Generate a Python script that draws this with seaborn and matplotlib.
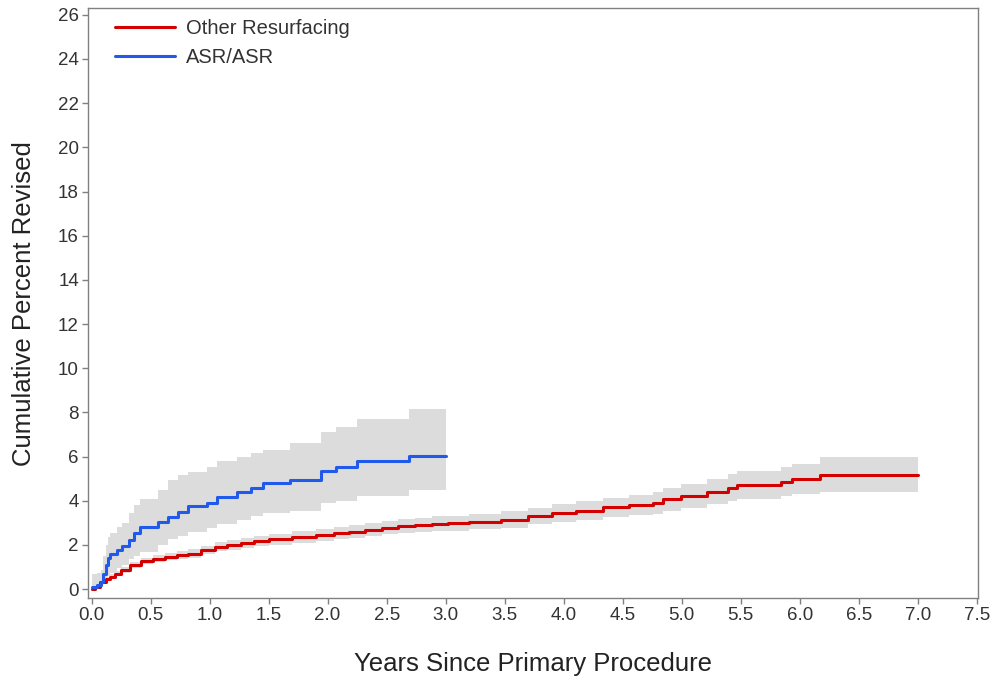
import numpy as np
import pandas as pd
import matplotlib
matplotlib.use("Agg")
import matplotlib.pyplot as plt
import seaborn as sns

# ---- data ----
asr_t = [0.00, 0.05, 0.08, 0.10, 0.12, 0.14, 0.16, 0.22, 0.26, 0.32, 0.36, 0.41, 0.56, 0.65,
         0.73, 0.82, 0.98, 1.06, 1.23, 1.35, 1.45, 1.68, 1.94, 2.07, 2.25, 2.69, 3.00]
asr_est = [0.10, 0.20, 0.33, 0.70, 1.10, 1.40, 1.60, 1.77, 1.96, 2.22, 2.55, 2.82, 3.05, 3.27,
           3.50, 3.76, 3.88, 4.18, 4.41, 4.60, 4.79, 4.94, 5.36, 5.54, 5.80, 6.05, 6.05]
asr_lo = [0.00, 0.02, 0.08, 0.25, 0.45, 0.60, 0.75, 0.95, 1.10, 1.35, 1.50, 1.70, 2.00, 2.25,
          2.40, 2.60, 2.75, 2.97, 3.15, 3.30, 3.43, 3.55, 3.90, 4.00, 4.20, 4.50, 4.50]
asr_hi = [0.70, 0.75, 0.85, 1.50, 2.00, 2.35, 2.55, 2.80, 3.00, 3.44, 3.80, 4.10, 4.50, 4.94,
          5.15, 5.30, 5.55, 5.80, 5.98, 6.15, 6.30, 6.60, 7.10, 7.35, 7.68, 8.15, 8.15]

oth_t = [0, 0.03, 0.076, 0.12, 0.16, 0.2, 0.25, 0.33, 0.42, 0.52, 0.62, 0.72, 0.82, 0.93, 1.05,
         1.15, 1.27, 1.38, 1.5, 1.7, 1.9, 2.05, 2.18, 2.32, 2.46, 2.6, 2.74, 2.88, 3.02, 3.2,
         3.47, 3.7, 3.9, 4.1, 4.33, 4.55, 4.76, 4.84, 4.99, 5.21, 5.39, 5.47, 5.84, 5.93, 6.17, 7.0]
oth_est = [0, 0.1, 0.33, 0.45, 0.56, 0.7, 0.86, 1.09, 1.27, 1.37, 1.46, 1.53, 1.61, 1.76, 1.92,
           2.0, 2.1, 2.17, 2.25, 2.35, 2.45, 2.52, 2.6, 2.68, 2.78, 2.84, 2.9, 2.95, 2.98, 3.05,
           3.14, 3.3, 3.44, 3.55, 3.7, 3.8, 3.9, 4.06, 4.21, 4.41, 4.59, 4.7, 4.85, 4.97, 5.16, 5.16]
oth_lo = [0, 0.05, 0.25, 0.36, 0.46, 0.59, 0.74, 0.96, 1.13, 1.22, 1.30, 1.36, 1.43, 1.57, 1.72,
          1.79, 1.88, 1.94, 2.01, 2.10, 2.19, 2.25, 2.32, 2.39, 2.48, 2.53, 2.58, 2.62, 2.65, 2.71,
          2.79, 2.93, 3.06, 3.15, 3.28, 3.36, 3.42, 3.56, 3.69, 3.85, 4.00, 4.09, 4.20, 4.30, 4.41, 4.41]
oth_hi = [0.05, 0.15, 0.42, 0.55, 0.67, 0.82, 0.99, 1.23, 1.42, 1.53, 1.63, 1.71, 1.80, 1.96, 2.13,
          2.22, 2.33, 2.41, 2.50, 2.61, 2.72, 2.80, 2.89, 2.98, 3.09, 3.16, 3.23, 3.29, 3.33, 3.41,
          3.52, 3.69, 3.84, 3.97, 4.14, 4.26, 4.40, 4.58, 4.75, 4.98, 5.20, 5.33, 5.52, 5.66, 5.97, 5.97]

labels = ["Other Resurfacing", "ASR/ASR"]
colors = ["#D40000", "#1F5AEB"]
band_color = "#DCDCDC"

x_ticks = [0.0, 0.5, 1.0, 1.5, 2.0, 2.5, 3.0, 3.5, 4.0, 4.5, 5.0, 5.5, 6.0, 6.5, 7.0, 7.5]
y_ticks = list(range(0, 27, 2))

# ---- plot ----
sns.set_theme(style="white")
plt.rcParams["font.family"] = ["Liberation Sans", "DejaVu Sans"]

fig = plt.figure(figsize=(9.94, 6.78), dpi=100)
ax = fig.add_axes([0.0885, 0.118, 0.8955, 0.870])

series = [
    (labels[0], oth_t, oth_est, oth_lo, oth_hi, colors[0]),
    (labels[1], asr_t, asr_est, asr_lo, asr_hi, colors[1]),
]
for name, t, est, lo, hi, col in series:
    ax.fill_between(t, lo, hi, step="post", color=band_color, linewidth=0, zorder=1)

frames = []
for name, t, est, lo, hi, col in series:
    frames.append(pd.DataFrame({"Years": t, "Percent": est, "Group": name}))
df = pd.concat(frames, ignore_index=True)

sns.lineplot(data=df, x="Years", y="Percent", hue="Group", hue_order=labels,
             palette=colors, drawstyle="steps-post", linewidth=2.2, ax=ax,
             estimator=None, sort=True, zorder=3)

ax.set_xlim(-0.03, 7.51)
ax.set_ylim(-0.4, 26.3)
ax.set_xticks(x_ticks)
ax.set_xticklabels([f"{v:.1f}" for v in x_ticks])
ax.set_yticks(y_ticks)
ax.tick_params(axis="both", which="both", direction="out", length=4, width=1,
               color="#808080", labelsize=13.5, labelcolor="#333333", pad=2.5,
               bottom=True, left=True)
for sp in ax.spines.values():
    sp.set_color("#808080")
    sp.set_linewidth(1.0)
    sp.set_visible(True)

ax.set_xlabel("Years Since Primary Procedure", fontsize=18.5, color="#222222", labelpad=20)
ax.set_ylabel("Cumulative Percent Revised", fontsize=18.5, color="#222222", labelpad=16)

leg = ax.legend(loc="upper left", bbox_to_anchor=(0.021, 0.995), borderaxespad=0,
                frameon=False, fontsize=14.5, handlelength=3.0, handletextpad=0.55,
                labelspacing=0.5)
for txt in leg.get_texts():
    txt.set_color("#333333")

fig.savefig("out.png", dpi=100)
